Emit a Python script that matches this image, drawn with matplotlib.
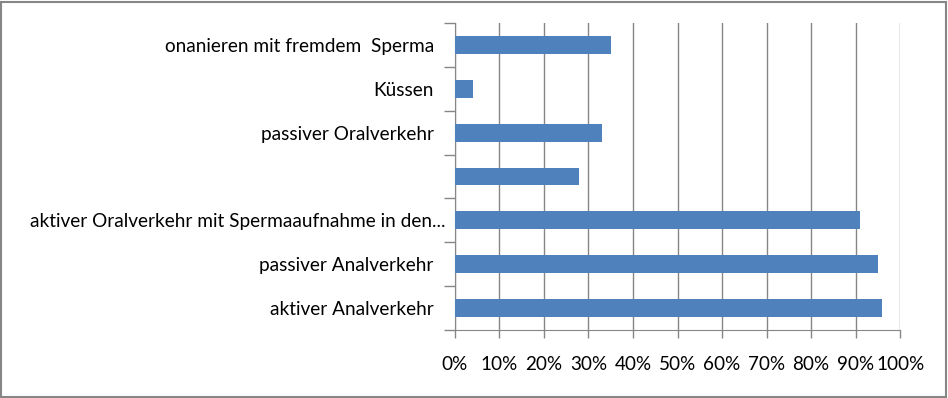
import matplotlib.pyplot as plt
from matplotlib.patches import Rectangle
from matplotlib.ticker import FixedLocator, NullFormatter, FuncFormatter
from matplotlib.transforms import ScaledTranslation

# categories from bottom to top
labels = ["aktiver Analverkehr",
          "passiver Analverkehr",
          "aktiver Oralverkehr mit Spermaaufnahme in den...",
          "",
          "passiver Oralverkehr",
          "Küssen",
          "onanieren mit fremdem  Sperma"]
values = [96, 95, 91, 28, 33, 4, 35]
xticks = [0, 10, 20, 30, 40, 50, 60, 70, 80, 90, 100]

grey = "#868686"
plt.rcParams['font.family'] = ['Lato', 'DejaVu Sans']

fig = plt.figure(figsize=(9.48, 3.98), dpi=100)
ax = fig.add_axes([454.7/948, 1-330/398, (900.3-454.7)/948, (330-23)/398])

pos = list(range(len(labels)))
ax.barh(pos, values, height=0.41, color="#4F81BD", zorder=3)

ax.set_xlim(0, 100)
ax.set_ylim(-0.5, len(labels)-0.5)
ax.set_xticks(xticks)
ax.xaxis.set_major_formatter(FuncFormatter(lambda v, _: f"{int(v)}%"))
ax.grid(axis='x', color=grey, linewidth=1.0, zorder=0)

ax.set_yticks(pos)
ax.set_yticklabels(labels, fontsize=13.7)
ax.yaxis.set_minor_locator(FixedLocator([p - 0.5 for p in pos] + [len(labels)-0.5]))
ax.yaxis.set_minor_formatter(NullFormatter())
ax.tick_params(axis='y', which='major', length=0, pad=15, colors='black')
ax.tick_params(axis='y', which='minor', length=8, color=grey, width=1)
ax.tick_params(axis='x', length=6, color=grey, width=1, labelsize=13.6, pad=13)

# the truncated label sits closer to the axis, as in the original
long_lbl = ax.get_yticklabels()[2]
long_lbl.set_transform(long_lbl.get_transform() + ScaledTranslation(0.12, 0, fig.dpi_scale_trans))

for s in ['top', 'right']:
    ax.spines[s].set_visible(False)
ax.spines['left'].set_color(grey)
ax.spines['bottom'].set_color(grey)

fig.patches.append(Rectangle((1/948, 1/398), 945/948, 395/398, transform=fig.transFigure,
                             fill=False, edgecolor=grey, linewidth=1.5))

fig.savefig("out.png", dpi=100)
